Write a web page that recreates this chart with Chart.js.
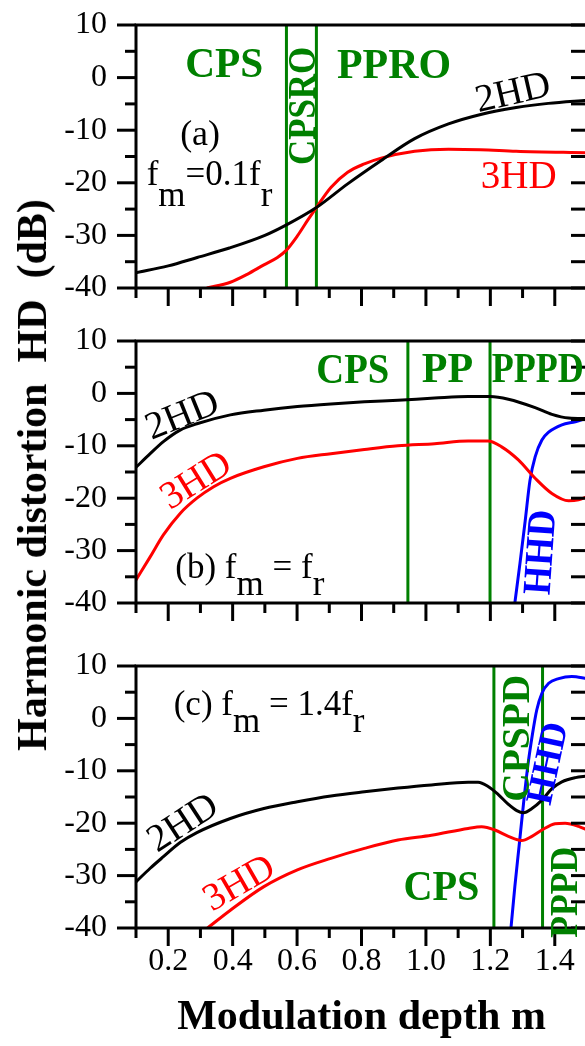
<!DOCTYPE html>
<html>
<head>
<meta charset="utf-8">
<script src="https://cdn.jsdelivr.net/npm/chart.js@4.4.1/dist/chart.umd.min.js"></script>
<style>
  html, body { margin: 0; padding: 0; background: #fff; }
  body { width: 585px; height: 1046px; overflow: hidden; position: relative; }
  canvas { position: absolute; left: 0; }
  #yTitle {
    position: absolute; left: 32px; top: 475px;
    transform: translate(-50%, -50%) rotate(-90deg);
    font: bold 42px "Liberation Serif", "Times New Roman", serif;
    line-height: 42px; white-space: pre; color: #000;
  }
</style>
</head>
<body>
<canvas id="chartA" width="590" height="310" style="top:0px"></canvas>
<canvas id="chartB" width="590" height="309" style="top:316px"></canvas>
<canvas id="chartC" width="590" height="426" style="top:620px"></canvas>
<div id="yTitle">Harmonic distortion  HD  (dB)</div>
<script>
// axis ticks
const mTicks = [0.1, 0.2, 0.3, 0.4, 0.5, 0.6, 0.7, 0.8, 0.9, 1.0, 1.1, 1.2, 1.3, 1.4, 1.5];
const mTickLabels = ['', '0.2', '', '0.4', '', '0.6', '', '0.8', '', '1.0', '', '1.2', '', '1.4', ''];
const dbTicks = [-40, -35, -30, -25, -20, -15, -10, -5, 0, 5, 10];
const dbTickLabels = ['-40', '', '-30', '', '-20', '', '-10', '', '0', '', '10'];

// (a) fm = 0.1 fr
const mA2 = [0.1, 0.2, 0.29, 0.39, 0.5, 0.567, 0.66, 0.757, 0.86, 0.965, 1.07, 1.17, 1.28, 1.38, 1.5];
const hdA2 = [-37.1, -35.8, -34.2, -32.4, -30.0, -28.0, -24.7, -20.2, -15.8, -11.6, -8.8, -7.0, -5.7, -4.9, -4.3];
const mA3 = [0.32, 0.393, 0.445, 0.497, 0.539, 0.567, 0.601, 0.632, 0.66, 0.705, 0.757, 0.809, 0.861, 0.965, 1.07, 1.17, 1.28, 1.5];
const hdA3 = [-40, -38.9, -37.4, -35.6, -34.2, -32.8, -30.1, -27.2, -24.7, -20.9, -18.0, -16.4, -15.3, -14.0, -13.6, -13.7, -14.0, -14.3];
const bndA = [0.567, 0.66];

// (b) fm = fr
const mB2 = [0.1, 0.144, 0.185, 0.237, 0.289, 0.393, 0.497, 0.601, 0.705, 0.809, 0.913, 1.027, 1.131, 1.199, 1.256, 1.339, 1.391, 1.443, 1.5];
const hdB2 = [-14.1, -11.5, -9.2, -7.0, -5.8, -4.1, -3.2, -2.5, -2.0, -1.6, -1.3, -0.9, -0.6, -0.6, -1.1, -2.7, -4.0, -4.7, -4.8];
const mB3 = [0.1, 0.144, 0.185, 0.237, 0.289, 0.341, 0.393, 0.497, 0.601, 0.705, 0.809, 0.913, 1.027, 1.131, 1.193, 1.235, 1.287, 1.339, 1.391, 1.443, 1.474, 1.5];
const hdB3 = [-35.6, -31.2, -27.0, -22.9, -20.0, -17.8, -16.2, -14.0, -12.4, -11.5, -10.7, -10.0, -9.6, -9.1, -9.1, -10.2, -12.7, -16.2, -19.1, -20.5, -20.3, -19.7];
const mBH = [1.276, 1.292, 1.308, 1.323, 1.339, 1.36, 1.381, 1.422, 1.464, 1.5];
const hdBH = [-40, -32.4, -24.4, -16.6, -12.1, -8.9, -7.4, -6.0, -5.4, -4.7];
const bndB = [0.944, 1.199];

// (c) fm = 1.4 fr
const mC2 = [0.1, 0.144, 0.185, 0.237, 0.289, 0.393, 0.497, 0.601, 0.705, 0.809, 0.913, 1.017, 1.131, 1.162, 1.193, 1.224, 1.256, 1.282, 1.303, 1.329, 1.36, 1.391, 1.422, 1.464, 1.5];
const hdC2 = [-31.2, -28.6, -26.4, -23.7, -21.8, -19.1, -17.2, -15.9, -14.8, -14.0, -13.3, -12.7, -12.2, -12.2, -13.0, -14.5, -16.4, -17.6, -18.0, -17.2, -15.6, -13.4, -12.1, -11.3, -11.0];
const mC3 = [0.322, 0.393, 0.497, 0.601, 0.705, 0.809, 0.913, 1.017, 1.131, 1.173, 1.214, 1.256, 1.297, 1.329, 1.36, 1.401, 1.432, 1.474, 1.5];
const hdC3 = [-40, -36.6, -32.1, -28.9, -26.7, -24.8, -23.2, -22.3, -21.0, -20.7, -21.3, -22.5, -23.3, -22.5, -21.3, -20.1, -20.0, -20.6, -21.3];
const mCH = [1.264, 1.276, 1.289, 1.303, 1.316, 1.331, 1.344, 1.36, 1.381, 1.412, 1.453, 1.5];
const hdCH = [-40, -32.1, -24.5, -16.2, -9.2, -2.9, 1.6, 4.8, 6.7, 7.6, 8.0, 7.6];
const bndC = [1.211, 1.362];

const SERIF = '"Liberation Serif", "Times New Roman", serif';
const GREEN = '#008000';
const RED = '#ff0000';
const BLUE = '#0000ff';

// text placed on the panels: (m, db) is the centre of the capitals
const notesA = [
  { s: 'CPS', m: 0.374, db: 2.8, sz: 42, bold: true, c: GREEN, w: 78 },
  { s: 'PPRO', m: 0.901, db: 2.5, sz: 42, bold: true, c: GREEN, w: 114 },
  { s: 'CPSRO', m: 0.615, db: -5.4, sz: 41, bold: true, c: GREEN, r: -90, w: 118 },
  { s: '2HD', m: 1.269, db: -2.6, sz: 39, c: '#000', r: -13 },
  { s: '3HD', m: 1.288, db: -18.6, sz: 39, c: RED },
  { s: '(a)', m: 0.299, db: -10.6, sz: 36, c: '#000' }
];
const notesB = [
  { s: 'CPS', m: 0.773, db: 4.7, sz: 42, bold: true, c: GREEN, w: 73 },
  { s: 'PP', m: 1.067, db: 4.8, sz: 42, bold: true, c: GREEN, w: 52 },
  { s: 'PPPD', m: 1.347, db: 4.8, sz: 42, bold: true, c: GREEN, w: 92 },
  { s: '2HD', m: 0.242, db: -3.9, sz: 39, c: '#000', r: -22 },
  { s: '3HD', m: 0.284, db: -16.4, sz: 39, c: RED, r: -32 },
  { s: 'HHD', m: 1.352, db: -30.3, sz: 40, bold: true, c: BLUE, r: -86, w: 85 }
];
const notesC = [
  { s: 'CPSPD', m: 1.279, db: -3.8, sz: 41, bold: true, c: GREEN, r: -90, w: 127 },
  { s: 'HHD', m: 1.375, db: -8.5, sz: 38, bold: true, c: BLUE, r: -78, w: 83 },
  { s: 'CPS', m: 1.048, db: -32.1, sz: 42, bold: true, c: GREEN, w: 76 },
  { s: 'PPPD', m: 1.427, db: -33.2, sz: 40, bold: true, c: GREEN, r: -90, w: 91 },
  { s: '2HD', m: 0.243, db: -19.7, sz: 39, c: '#000', r: -33 },
  { s: '3HD', m: 0.418, db: -31.2, sz: 39, c: RED, r: -30 }
];
// f_m = ... f_r : start point on the baseline, subscript drop in px
const freqA = { m: 0.133, db: -20.5, sub: 21, parts: [['f', 0], ['m', 1], ['=0.1f', 0], ['r', 1]] };
const freqB = { m: 0.222, db: -35.3, sub: 17, parts: [['(b) f', 0], ['m', 1], [' = f', 0], ['r', 1]] };
const freqC = { m: 0.217, db: 0.65, sub: 17, parts: [['(c) f', 0], ['m', 1], [' = 1.4f', 0], ['r', 1]] };

function pts(xs, ys) {
  return xs.map((x, i) => ({ x: x, y: ys[i] }));
}

function drawNote(ctx, n, x, y) {
  ctx.save();
  ctx.translate(x, y);
  ctx.rotate((n.r || 0) * Math.PI / 180);
  ctx.font = (n.bold ? 'bold ' : '') + n.sz + 'px ' + SERIF;
  ctx.fillStyle = n.c;
  ctx.textAlign = 'center';
  ctx.textBaseline = 'alphabetic';
  if (n.w) ctx.fillText(n.s, 0, n.sz * 0.33, n.w);
  else ctx.fillText(n.s, 0, n.sz * 0.33);
  ctx.restore();
}

// frame, tick marks and the in-plot labels
const decor = {
  id: 'decor',
  afterDatasetsDraw(chart, args, opts) {
    const ctx = chart.ctx;
    const a = chart.chartArea;
    const xs = chart.scales.x, ys = chart.scales.y;
    ctx.save();
    ctx.strokeStyle = '#000';
    ctx.lineWidth = 3;
    ctx.strokeRect(a.left, a.top, a.right - a.left, a.bottom - a.top);
    mTicks.forEach((v, i) => {
      const px = xs.getPixelForValue(v);
      const len = i % 2 === 1 ? 18 : 10;
      ctx.beginPath(); ctx.moveTo(px, a.bottom); ctx.lineTo(px, a.bottom + len); ctx.stroke();
    });
    dbTicks.forEach((v, i) => {
      const py = ys.getPixelForValue(v);
      const len = i % 2 === 0 ? 19 : 11;
      ctx.beginPath(); ctx.moveTo(a.left, py); ctx.lineTo(a.left - len, py); ctx.stroke();
      ctx.beginPath(); ctx.moveTo(a.right, py); ctx.lineTo(a.right - 16, py); ctx.stroke();
    });
    opts.notes.forEach(n => drawNote(ctx, n, xs.getPixelForValue(n.m), ys.getPixelForValue(n.db)));
    // f_m = ... f_r with subscripts
    const fq = opts.freq;
    let x = xs.getPixelForValue(fq.m);
    const y = ys.getPixelForValue(fq.db);
    ctx.font = '35px ' + SERIF;
    ctx.fillStyle = '#000';
    ctx.textAlign = 'left';
    ctx.textBaseline = 'alphabetic';
    fq.parts.forEach(p => {
      ctx.fillText(p[0], x, y + (p[1] ? fq.sub : 0));
      x += ctx.measureText(p[0]).width;
    });
    ctx.restore();
  }
};

function makePanel(id, curves, bounds, notes, freq, padTop, showX) {
  const ds = curves.map(c => ({
    data: pts(c[0], c[1]),
    borderColor: c[2],
    borderWidth: 3,
    pointRadius: 0,
    fill: false,
    cubicInterpolationMode: 'monotone'
  }));
  bounds.forEach(b => ds.push({
    data: [{ x: b, y: -40 }, { x: b, y: 10 }],
    borderColor: GREEN,
    borderWidth: 3,
    pointRadius: 0,
    fill: false
  }));
  return new Chart(document.getElementById(id), {
    type: 'line',
    data: { datasets: ds },
    options: {
      responsive: false,
      animation: false,
      events: [],
      layout: { padding: { top: padTop, right: 3, left: 0, bottom: 0 } },
      plugins: {
        legend: { display: false },
        tooltip: { enabled: false },
        decor: { notes: notes, freq: freq }
      },
      scales: {
        x: {
          type: 'linear', min: 0.1, max: 1.5,
          grid: { display: false, drawTicks: false },
          border: { display: false },
          afterBuildTicks: s => { s.ticks = mTicks.map(v => ({ value: v })); },
          ticks: {
            display: showX, autoSkip: false, maxRotation: 0, minRotation: 0,
            padding: 14, color: '#000',
            font: { family: SERIF, size: 32 },
            callback: (v, i) => mTickLabels[i]
          },
          title: {
            display: showX, text: 'Modulation depth m', color: '#000',
            font: { family: SERIF, size: 42, weight: 'bold' },
            padding: { top: 0, bottom: 3 }
          },
          afterFit: s => {
            s.height = showX ? 118 : 22;
            s.paddingLeft = 0; s.paddingRight = 0;
          }
        },
        y: {
          type: 'linear', min: -40, max: 10,
          grid: { display: false, drawTicks: false },
          border: { display: false },
          afterBuildTicks: s => { s.ticks = dbTicks.map(v => ({ value: v })); },
          ticks: {
            autoSkip: false, padding: 29, color: '#000',
            font: { family: SERIF, size: 32 },
            callback: (v, i) => dbTickLabels[i]
          },
          afterFit: s => {
            s.width = 136;
            s.paddingTop = 0; s.paddingBottom = 0;
          }
        }
      }
    },
    plugins: [decor]
  });
}

makePanel('chartA', [[mA2, hdA2, '#000'], [mA3, hdA3, RED]], bndA, notesA, freqA, 25, false);
makePanel('chartB', [[mB2, hdB2, '#000'], [mB3, hdB3, RED], [mBH, hdBH, BLUE]], bndB, notesB, freqB, 25, false);
makePanel('chartC', [[mC2, hdC2, '#000'], [mC3, hdC3, RED], [mCH, hdCH, BLUE]], bndC, notesC, freqC, 46, true);
</script>
</body>
</html>
